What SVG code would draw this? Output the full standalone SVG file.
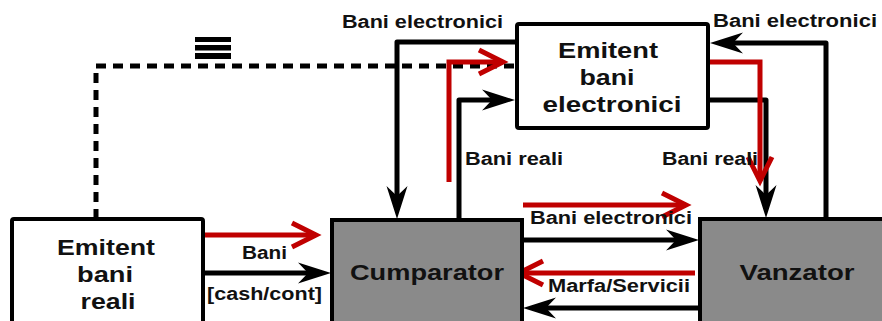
<svg xmlns="http://www.w3.org/2000/svg" width="882" height="321" viewBox="0 0 882 321">
<style>
text{font-family:"Liberation Sans",Arial,sans-serif;font-weight:bold;fill:#111}
.lbl{font-size:18px}
.nt{font-size:22px;text-anchor:middle}
.box{stroke:#000;stroke-width:4}
.wb{fill:#fff}
.gb{fill:#8a8a8a}
.blk{fill:none;stroke:#000;stroke-width:5;stroke-linejoin:round;marker-end:url(#ah)}
.red{fill:none;stroke:#c00000;stroke-width:5;marker-end:url(#rh)}
.dash{fill:none;stroke:#000;stroke-width:5;stroke-dasharray:10 7}
</style>
<defs>
<marker id="ah" markerUnits="userSpaceOnUse" markerWidth="34" markerHeight="24" refX="24" refY="10.5" orient="auto" overflow="visible">
<path d="M0,0 L33,10.5 L0,21 L10,10.5 z" fill="#000"/>
</marker>
<marker id="rh" markerUnits="userSpaceOnUse" markerWidth="28" markerHeight="28" refX="24" refY="12" orient="auto" overflow="visible">
<path d="M0,0 L24,12 L0,24" fill="none" stroke="#c00000" stroke-width="5"/>
</marker>
</defs>
<g id="connectors">
<path class="dash" d="M96,219 V66 H517"/>
<rect x="195" y="37" width="36" height="5" fill="#000"/>
<rect x="195" y="45" width="36" height="5.5" fill="#000"/>
<rect x="195" y="53" width="36" height="6" fill="#000"/>
<path class="blk" d="M517,42 H397 V210"/>
<path class="blk" d="M826,219 V43 H719"/>
<path class="blk" d="M459,220 V100 H506"/>
<path class="blk" d="M708,100 H766 V209"/>
<path class="blk" d="M522,240 H690"/>
<path class="blk" d="M700,308 H532"/>
<path class="blk" d="M203,273 H322"/>
<path class="red" d="M195,235 H316"/>
<path class="red" d="M449,182 V62 H503"/>
<path class="red" d="M703,62 H760 V181"/>
<path class="red" d="M523,205 H686"/>
<path class="red" d="M695,273 H519"/>
<text class="lbl" x="342" y="28" textLength="161" lengthAdjust="spacingAndGlyphs">Bani electronici</text>
<text class="lbl" x="713" y="27" textLength="164" lengthAdjust="spacingAndGlyphs">Bani electronici</text>
<text class="lbl" x="465" y="165" textLength="98" lengthAdjust="spacingAndGlyphs">Bani reali</text>
<text class="lbl" x="662" y="165" textLength="96" lengthAdjust="spacingAndGlyphs">Bani reali</text>
<text class="lbl" x="530" y="224" textLength="162" lengthAdjust="spacingAndGlyphs">Bani electronici</text>
<text class="lbl" x="548" y="292" textLength="142" lengthAdjust="spacingAndGlyphs">Marfa/Servicii</text>
<text class="lbl" x="242" y="259" textLength="45" lengthAdjust="spacingAndGlyphs">Bani</text>
<text class="lbl" x="207" y="300" textLength="115" lengthAdjust="spacingAndGlyphs">[cash/cont]</text>
</g>
<g id="emitent-electronici">
<rect class="box wb" x="517" y="24" width="191" height="104" rx="2"/>
<text class="nt" x="608" y="58" textLength="100" lengthAdjust="spacingAndGlyphs">Emitent</text>
<text class="nt" x="607" y="85" textLength="55" lengthAdjust="spacingAndGlyphs">bani</text>
<text class="nt" x="612" y="112" textLength="139" lengthAdjust="spacingAndGlyphs">electronici</text>
</g>
<g id="emitent-reali">
<rect class="box wb" x="12" y="219" width="191" height="120" rx="2"/>
<text class="nt" x="106" y="255" textLength="98" lengthAdjust="spacingAndGlyphs">Emitent</text>
<text class="nt" x="105" y="282" textLength="56" lengthAdjust="spacingAndGlyphs">bani</text>
<text class="nt" x="108" y="309" textLength="55" lengthAdjust="spacingAndGlyphs">reali</text>
</g>
<g id="cumparator">
<rect class="box gb" x="332" y="220" width="190" height="120"/>
<text class="nt" x="427" y="280" font-size="23" textLength="154" lengthAdjust="spacingAndGlyphs">Cumparator</text>
</g>
<g id="vanzator">
<rect class="box gb" x="700" y="219" width="200" height="120"/>
<text class="nt" x="797" y="280" font-size="23" textLength="115" lengthAdjust="spacingAndGlyphs">Vanzator</text>
</g>
</svg>
